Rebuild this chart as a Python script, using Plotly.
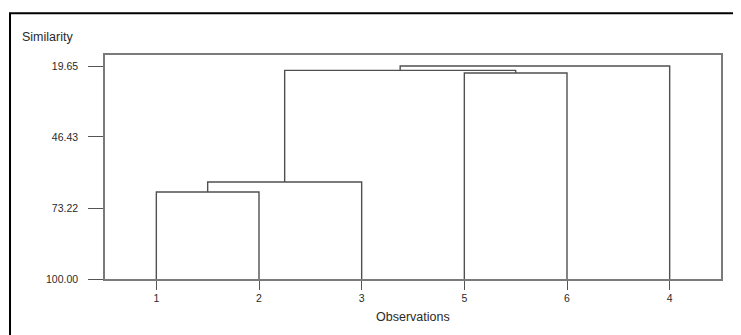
import plotly.graph_objects as go

# Leaf order along the x axis
leaf_labels = ["1", "2", "3", "5", "6", "4"]
# Merges: cluster A joined with cluster B at a similarity level
merge_a = ["1", "12", "5", "123", "12356"]
merge_b = ["2", "3", "6", "56", "4"]
merge_sim = [67.2, 63.4, 22.3, 21.3, 19.65]
# Y tick labels
y_ticks = [19.65, 46.43, 73.22, 100.00]
x_title = "Observations"
y_title = "Similarity"

pos = {lab: i + 1 for i, lab in enumerate(leaf_labels)}
height = {lab: 100.0 for lab in leaf_labels}

xs, ys = [], []
for a, b, s in zip(merge_a, merge_b, merge_sim):
    xa, xb = pos[a], pos[b]
    xs += [xa, xa, xb, xb, None]
    ys += [height[a], s, s, height[b], None]
    pos[a + b] = (xa + xb) / 2
    height[a + b] = s

line_col = "#505050"
txt_col = "#2a2a2a"
font_fam = "Liberation Sans, Arial, sans-serif"

fig = go.Figure()
fig.add_trace(go.Scatter(x=xs, y=ys, mode="lines",
                         line=dict(color=line_col, width=1.4),
                         hoverinfo="skip", showlegend=False))

fig.update_layout(
    width=733, height=327,
    margin=dict(l=97, r=20, t=47, b=56),
    paper_bgcolor="white", plot_bgcolor="white",
    font=dict(family=font_fam, color=txt_col, size=10.5),
    xaxis=dict(range=[0.5, 6.5], tickvals=list(range(1, len(leaf_labels) + 1)),
               ticktext=leaf_labels, showgrid=False, zeroline=False,
               showline=True, mirror=True, linecolor="#7a7a7a", linewidth=1.5,
               ticks="outside", ticklen=9, tickcolor="#555555", tickwidth=1.2,
               tickfont=dict(size=10.5, color=txt_col)),
    yaxis=dict(range=[100, 15.5], tickvals=y_ticks,
               ticktext=[f"{v:.2f}" for v in y_ticks], showgrid=False,
               zeroline=False, showline=True, mirror=True,
               linecolor="#7a7a7a", linewidth=1.5,
               ticks="outside", ticklen=15, tickcolor="#555555", tickwidth=1.2,
               ticklabelstandoff=8,
               tickfont=dict(size=10.5, color=txt_col)),
    annotations=[
        dict(text=y_title, xref="paper", yref="paper", x=-0.138, y=1.08,
             xanchor="left", yanchor="middle", showarrow=False,
             font=dict(size=12.5, color=txt_col)),
        dict(text=x_title, xref="paper", yref="paper", x=0.5, y=-0.169,
             xanchor="center", yanchor="middle", showarrow=False,
             font=dict(size=12.5, color=txt_col)),
    ],
    shapes=[
        dict(type="path", xref="paper", yref="paper",
             path="M -0.1542 -0.3 L -0.1542 1.1867 L 1.1 1.1867",
             line=dict(color="black", width=2)),
    ],
)

fig.write_html("out.html")
